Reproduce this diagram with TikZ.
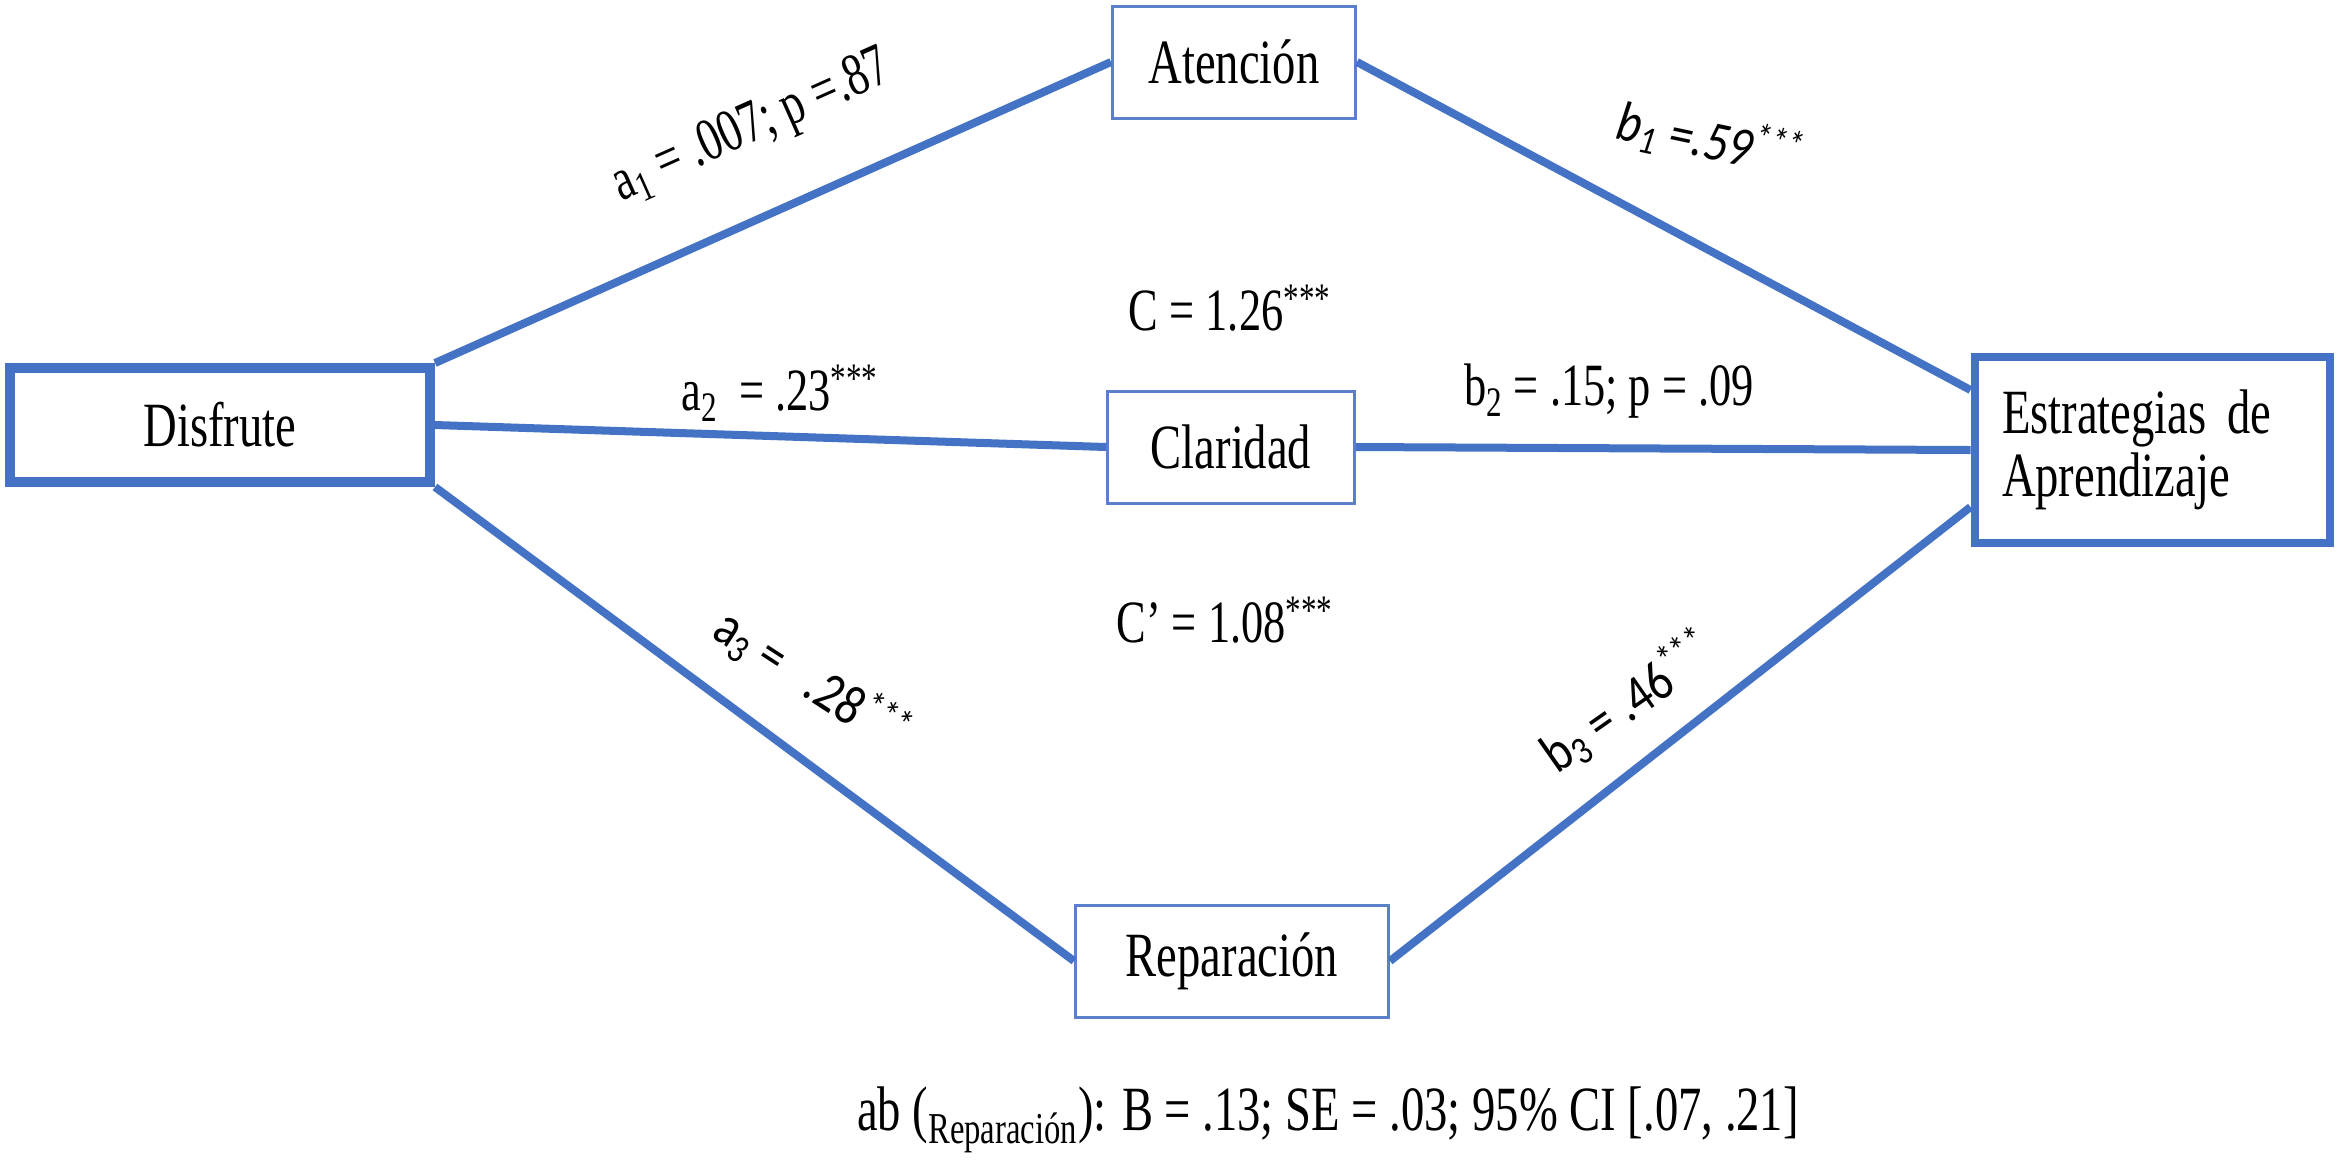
\documentclass[tikz,border=0pt]{standalone}
\usepackage{fontspec}
\setmainfont[FakeStretch=0.74]{Liberation Serif}
\newfontfamily\calib[FakeStretch=0.85]{Carlito}
\definecolor{lineblue}{HTML}{4472C4}
\definecolor{boxblue}{HTML}{5B80C9}
\begin{document}
\begin{tikzpicture}[x=0.5pt,y=-0.5pt,
  bigbox/.style={draw=lineblue, line width=5pt, inner sep=0pt, font=\fontsize{31.5}{31.5}\selectfont},
  smallbox/.style={draw=boxblue, line width=1.5pt, inner sep=0pt, minimum height=56pt, font=\fontsize{31.5}{31.5}\selectfont},
  link/.style={draw=lineblue, line width=4pt},
  lbl/.style={inner sep=0pt, font=\fontsize{30}{30}\selectfont},
  clbl/.style={inner sep=0pt, font=\calib\fontsize{28}{28}\selectfont}]
\useasboundingbox[fill=white] (0,0) rectangle (2341,1175);

\node[bigbox, minimum width=210pt, minimum height=57pt] (D) at (220,425) {Disfrute};
\node[smallbox, minimum width=121.5pt] (A) at (1234,62) {Atención};
\node[smallbox, minimum width=123.5pt] (C) at (1231,447) {Claridad};
\node[smallbox, minimum width=156.5pt] (R) at (1232,961) {Reparación};
\node[bigbox, line width=4pt, minimum width=177.5pt, minimum height=93pt, text width=150pt, align=left] (E) at (2152,450) {Estrategias de\\Aprendizaje};

\draw[link] (D.north east) -- (A.west);
\draw[link] (A.east) -- ([yshift=30pt]E.west);
\draw[link] (D.east) -- (C.west);
\draw[link] (C.east) -- (E.west);
\draw[link] (D.south east) -- (R.west);
\draw[link] (R.east) -- ([yshift=-28.5pt]E.west);

\node[lbl, rotate=24] (la1) at (752,128) {a\textsubscript{1} = .007; p =.87};
\node[clbl, rotate=-12] (lb1) at (1710,140) {\itshape b\textsubscript{1} =.59\textsuperscript{***}};
\node[lbl] (lc) at (1230,308) {C = 1.26\textsuperscript{***}};
\node[lbl] (la2) at (780,393) {a\textsubscript{2} \,= .23\textsuperscript{***}};
\node[lbl] (lb2) at (1609,391) {b\textsubscript{2} = .15; p = .09};
\node[lbl] (lcp) at (1225,620) {C’ = 1.08\textsuperscript{***}};
\node[clbl, rotate=-33] (la3) at (812,680) {a\textsubscript{3} = \ \ .28\textsuperscript{***}};
\node[clbl, rotate=35] (lb3) at (1628,702) {b\textsubscript{3} = .46\textsuperscript{***}};
\node[lbl, font=\fontsize{31.5}{31.5}\selectfont] (lab) at (1328,1120) {ab (\textsubscript{Reparación}): B = .13; SE = .03; 95\% CI [.07, .21]};
\end{tikzpicture}
\end{document}
